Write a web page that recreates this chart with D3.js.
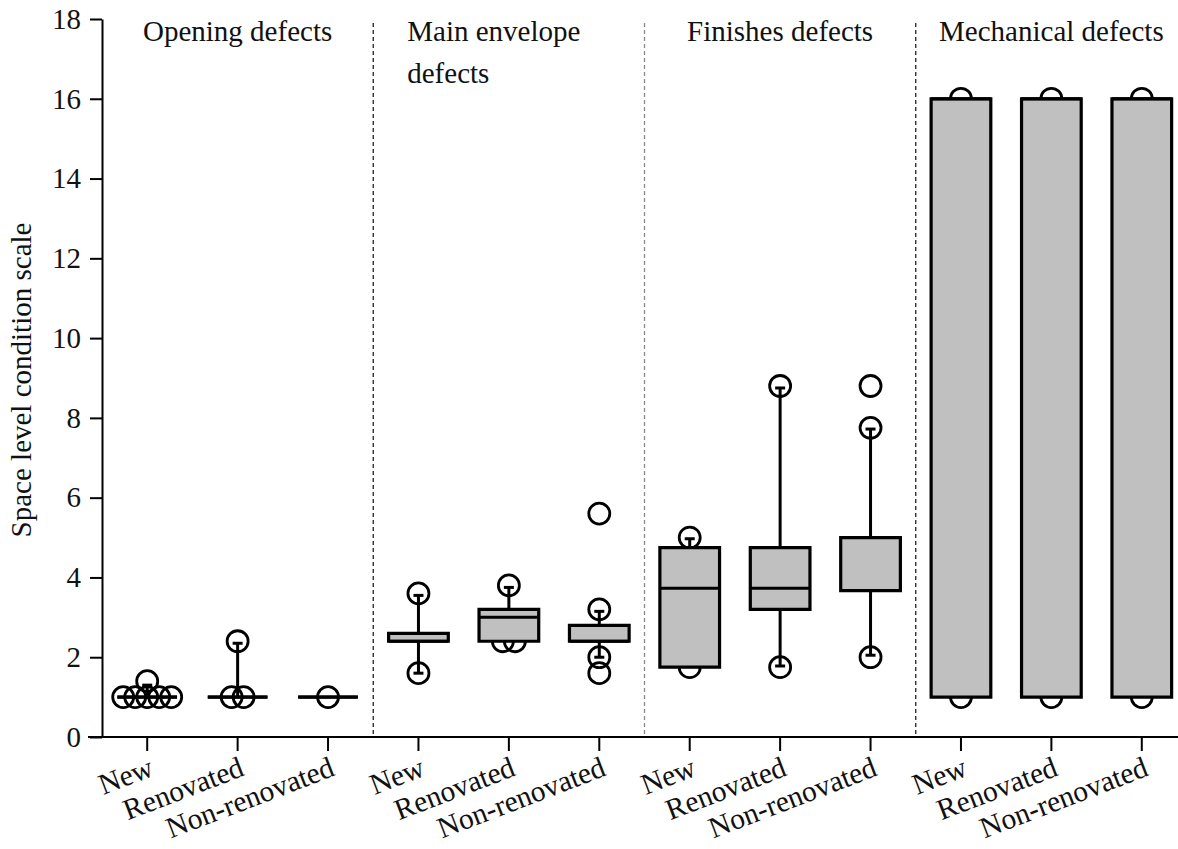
<!DOCTYPE html>
<html>
<head>
<meta charset="utf-8">
<script src="https://cdn.jsdelivr.net/npm/d3@7"></script>
<style>
  body { margin: 0; background: #fff; }
  svg { display: block; font-family: "Liberation Serif", "Times New Roman", serif; }
</style>
</head>
<body>
<svg width="1178" height="849"></svg>
<script>
// data
const groups = ["Opening defects", "Main envelope defects", "Finishes defects", "Mechanical defects"]
const titleLines = [["Opening defects"], ["Main envelope", "defects"], ["Finishes defects"], ["Mechanical defects"]]
const types = ["New", "Renovated", "Non-renovated"]
const yTicks = [0, 2, 4, 6, 8, 10, 12, 14, 16, 18]

// one entry per group x type, in order
const q1 = [1, 1, 1, 2.4, 2.4, 2.4, 1.75, 3.2, 3.67, 1, 1, 1]
const median = [1, 1, 1, 2.4, 3.0, 2.4, 3.73, 3.73, 5.0, 16, 16, 16]
const q3 = [1, 1, 1, 2.6, 3.2, 2.8, 4.75, 4.75, 5.0, 16, 16, 16]
const whiskerLow = [1, 1, 1, 1.6, 2.4, 2.0, 1.75, 1.78, 2.05, 1, 1, 1]
const whiskerHigh = [1.3, 2.35, 1, 3.55, 3.75, 3.15, 4.97, 8.75, 7.72, 16, 16, 16]
const points = [
  [1, 1, 1, 1, 1, 1.4], [1, 1, 2.4], [1],
  [1.6, 3.6], [2.4, 2.4, 3.8], [1.6, 2.0, 3.2, 5.6],
  [1.75, 5.0], [1.75, 8.8], [2.0, 7.75, 8.8],
  [1, 16], [1, 16], [1, 16]
]

const svg = d3.select('svg')

const keys = []
groups.forEach(g => types.forEach(t => keys.push(g + '|' + t)))

const data = keys.map((k, i) => ({
  key: k,
  group: k.split('|')[0],
  type: k.split('|')[1],
  q1: q1[i], median: median[i], q3: q3[i],
  lo: whiskerLow[i], hi: whiskerHigh[i],
  points: points[i]
}))

const scaleX = d3.scaleBand()
  .domain(keys)
  .range([102, 1187])

const scaleY = d3.scaleLinear()
  .domain([0, 18])
  .range([737, 19])

const bw = scaleX.bandwidth()
const boxW = bw * 0.66
const capW = 10

// dividers between groups
svg.selectAll('line.divider')
  .data(groups.slice(1))
  .enter()
  .append('line')
  .attr('class', 'divider')
  .attr('x1', g => scaleX(g + '|' + types[0]))
  .attr('x2', g => scaleX(g + '|' + types[0]))
  .attr('y1', scaleY(17.9))
  .attr('y2', scaleY(0))
  .attr('stroke', (g, i) => i == 1 ? '#888' : '#222')
  .attr('stroke-width', 1.3)
  .attr('stroke-dasharray', '4,3')

// group titles
groups.forEach((g, gi) => {
  const x0 = scaleX(g + '|' + types[0])
  const x1 = scaleX(g + '|' + types[2]) + bw
  const lines = titleLines[gi]
  const t = svg.append('text')
    .attr('class', 'title')
    .attr('font-size', 29)
    .attr('fill', '#111')
  if (lines.length == 1) {
    t.attr('x', (x0 + x1) / 2).attr('y', 41).attr('text-anchor', 'middle').text(lines[0])
  } else {
    lines.forEach((l, li) => {
      t.append('tspan')
        .attr('x', x0 + 34)
        .attr('y', 41 + li * 42)
        .text(l)
    })
  }
})

// axes
const axisY = d3.axisLeft(scaleY)
  .tickValues(yTicks)
  .tickSizeInner(12)
  .tickSizeOuter(0)
  .tickPadding(9)

const axisYGroup = svg.append('g')
  .attr('class', 'y-axis')
  .attr('transform', 'translate(102, 0)')
  .call(axisY)

axisYGroup.selectAll('text')
  .attr('font-size', 29)
  .attr('font-family', '"Liberation Serif", serif')
  .attr('fill', '#111')
axisYGroup.selectAll('line, path')
  .attr('stroke', '#000')
  .attr('stroke-width', 2)

svg.append('line')
  .attr('x1', 88)
  .attr('x2', 1178)
  .attr('y1', scaleY(0))
  .attr('y2', scaleY(0))
  .attr('stroke', '#000')
  .attr('stroke-width', 2)

const axisX = d3.axisBottom(scaleX)
  .tickSizeInner(14)
  .tickSizeOuter(0)
  .tickFormat(k => k.split('|')[1])

const axisXGroup = svg.append('g')
  .attr('class', 'x-axis')
  .attr('transform', `translate(0, ${scaleY(0)})`)
  .call(axisX)

axisXGroup.select('path.domain').remove()
axisXGroup.selectAll('line')
  .attr('stroke', '#000')
  .attr('stroke-width', 2)
axisXGroup.selectAll('text')
  .attr('font-size', 29.5)
  .attr('font-family', '"Liberation Serif", serif')
  .attr('fill', '#111')
  .attr('text-anchor', 'end')
  .attr('y', 0)
  .attr('dy', 0)
  .attr('transform', 'translate(8, 38) rotate(-21)')

svg.append('text')
  .attr('class', 'y-label')
  .attr('transform', `translate(31, ${(scaleY(0) + scaleY(18)) / 2 + 2}) rotate(-90)`)
  .attr('text-anchor', 'middle')
  .attr('font-size', 29)
  .attr('fill', '#111')
  .text('Space level condition scale')

// boxes
const boxes = svg.selectAll('g.box')
  .data(data)
  .enter()
  .append('g')
  .attr('class', 'box')
  .attr('transform', d => `translate(${scaleX(d.key) + bw / 2}, 0)`)

// points, spread sideways when values repeat
boxes.each(function(d) {
  const counts = d3.rollup(d.points, v => v.length, v => v)
  const seen = new Map()
  const pts = d.points.map(v => {
    const n = counts.get(v)
    const i = seen.get(v) || 0
    seen.set(v, i + 1)
    return { v: v, dx: (i - (n - 1) / 2) * 12 }
  })
  d3.select(this).selectAll('circle')
    .data(pts)
    .enter()
    .append('circle')
    .attr('cx', p => p.dx)
    .attr('cy', p => scaleY(p.v))
    .attr('r', 10.5)
    .attr('fill', 'none')
    .attr('stroke', '#000')
    .attr('stroke-width', 2.8)
})

// whiskers
boxes.append('line')
  .attr('x1', 0).attr('x2', 0)
  .attr('y1', d => scaleY(d.q3))
  .attr('y2', d => scaleY(d.hi))
  .attr('stroke', '#000')
  .attr('stroke-width', 3)
boxes.append('line')
  .attr('x1', 0).attr('x2', 0)
  .attr('y1', d => scaleY(d.q1))
  .attr('y2', d => scaleY(d.lo))
  .attr('stroke', '#000')
  .attr('stroke-width', 3)
boxes.filter(d => d.hi > d.q3)
  .append('line')
  .attr('x1', -capW / 2).attr('x2', capW / 2)
  .attr('y1', d => scaleY(d.hi))
  .attr('y2', d => scaleY(d.hi))
  .attr('stroke', '#000')
  .attr('stroke-width', 3)
boxes.filter(d => d.lo < d.q1)
  .append('line')
  .attr('x1', -capW / 2).attr('x2', capW / 2)
  .attr('y1', d => scaleY(d.lo))
  .attr('y2', d => scaleY(d.lo))
  .attr('stroke', '#000')
  .attr('stroke-width', 3)

boxes.append('path')
  .attr('d', d => {
    const a = scaleY(d.q3), b = scaleY(d.q1)
    return `M${-boxW / 2},${a}H${boxW / 2}V${b}H${-boxW / 2}Z`
  })
  .attr('fill', '#c0c0c0')
  .attr('stroke', '#000')
  .attr('stroke-width', 3.2)
  .attr('stroke-linejoin', 'miter')

boxes.append('line')
  .attr('x1', -boxW / 2).attr('x2', boxW / 2)
  .attr('y1', d => scaleY(d.median))
  .attr('y2', d => scaleY(d.median))
  .attr('stroke', '#000')
  .attr('stroke-width', 3)
</script>
</body>
</html>
